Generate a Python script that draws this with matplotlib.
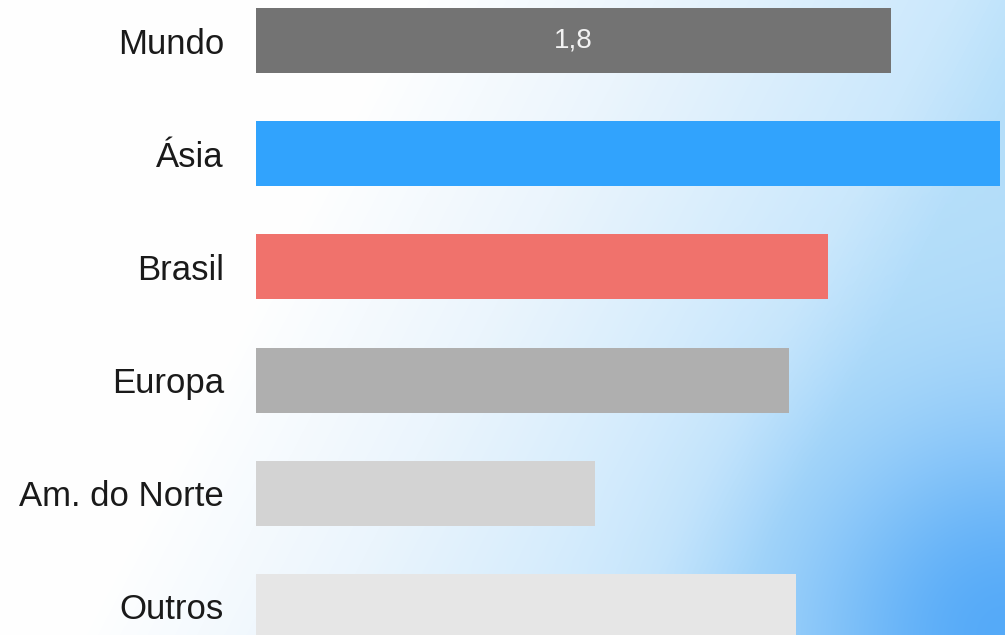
import numpy as np
import matplotlib
matplotlib.use("Agg")
from matplotlib import pyplot as plt
from matplotlib.colors import LinearSegmentedColormap, to_rgb

plt.rcParams['font.family'] = ['Liberation Sans', 'DejaVu Sans']

# dados
regioes = ["Mundo", "Ásia", "Brasil", "Europa", "Am. do Norte", "Outros"]
valores = [1.8, 2.11, 1.62, 1.51, 0.96, 1.53]
cores = ["#737373", "#31a3fd", "#f0726c", "#afafaf", "#d3d3d3", "#e6e6e6"]
rotulo_mundo = "1,8"

W, H = 1005, 635
fig = plt.figure(figsize=(W / 100, H / 100), dpi=100)

# fundo: degrade linear claro + mancha azul no canto inferior direito
px, py = np.meshgrid(np.arange(W), np.arange(H))
s = px / W + 0.33 * py / H
base = LinearSegmentedColormap.from_list("base", [
    (0.0, "#ffffff"), (0.4 / 1.4, "#ffffff"), (0.65 / 1.4, "#ebf5fd"),
    (0.95 / 1.4, "#cbe8fc"), (1.05 / 1.4, "#b6dffa"), (1.0, "#b0dafa")])
img = base(np.clip(s / 1.4, 0, 1))[..., :3]
r = np.hypot(px - W, py - H)
a = np.exp(-(r / 210.0) ** 2)[..., None]
img = img * (1 - a) + np.array(to_rgb("#55aaf8")) * a

bg = fig.add_axes([0, 0, 1, 1])
bg.imshow(img, aspect="auto", origin="upper", extent=[0, 1, 0, 1])
bg.set_axis_off()

ax = fig.add_axes([256 / W, 0, 1 - 256 / W, 1])
ax.patch.set_alpha(0)
y = np.arange(len(regioes))
ax.barh(y, valores, height=0.574, color=cores)
ax.set_xlim(0, 2.123)
ax.set_ylim(5.252, -0.358)
ax.set_yticks(y)
ax.set_yticklabels(regioes, fontsize=25, color="#1a1a1a")
ax.tick_params(axis="y", length=0, pad=23)
ax.set_xticks([])
for sp in ax.spines.values():
    sp.set_visible(False)

ax.text(valores[0] / 2, 0, rotulo_mundo, ha="center", va="center",
        fontsize=20, color="#f2f2f2")

fig.savefig("out.png", dpi=100)
